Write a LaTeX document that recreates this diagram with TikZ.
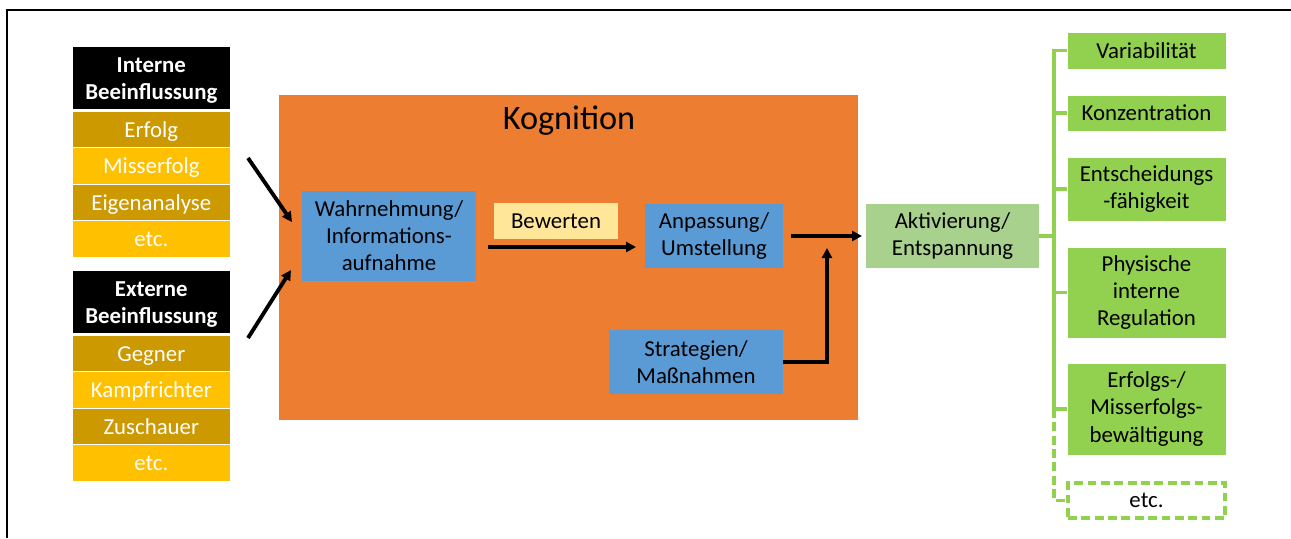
\documentclass[tikz,border=0pt]{standalone}
\usepackage{fontspec}
\setmainfont{Carlito}
\usepackage{tikz}
\usetikzlibrary{shapes, arrows.meta, positioning, calc}

\definecolor{kogorange}{HTML}{ED7D31}
\definecolor{boxblue}{HTML}{5B9BD5}
\definecolor{bewyellow}{HTML}{FFE699}
\definecolor{darkgold}{HTML}{CC9900}
\definecolor{gold}{HTML}{FFC000}
\definecolor{lightgreen}{HTML}{A9D18E}
\definecolor{resgreen}{HTML}{92D050}

\begin{document}
\begin{tikzpicture}[x=0.02cm, y=-0.02cm,
		every node/.style={font=\fontsize{13}{15.4}\selectfont, align=center, inner sep=0pt, outer sep=0pt},
		head/.style={fill=black, text=white, font=\fontsize{13}{15.7}\selectfont\bfseries, text height=27.7pt, text depth=2.7pt, minimum width=3.15cm, minimum height=1.24cm},
		darkrow/.style={fill=darkgold, draw=white, line width=0.4pt, text=white, text height=9pt, text depth=0pt, minimum width=3.15cm, minimum height=0.73cm},
		lightrow/.style={darkrow, fill=gold},
		bluebox/.style={fill=boxblue, minimum width=3.48cm, minimum height=1.28cm},
		greenbox/.style={fill=resgreen, draw=white, line width=0.4pt, minimum width=3.18cm},
		arr/.style={-{Triangle[length=0.2cm, width=0.2cm]}, line width=2.2pt},
		tree/.style={draw=resgreen, line width=2pt},
		greendash/.style={dash pattern=on 5pt off 2.6pt}]
	\useasboundingbox (0,0) rectangle (1291,538);
	% Frame
	\draw[line width=1.5pt] (7,538) -- (7,10) -- (1291,10);

	% Interne Beeinflussung
	\node[head] (inthead) at (151.3,78) {Interne\\Beeinflussung};
	\node[darkrow, below=0.04cm of inthead] (erfolg) {Erfolg};
	\node[lightrow, below=0pt of erfolg] (misserfolg) {Misserfolg};
	\node[darkrow, below=0pt of misserfolg] (eigen) {Eigenanalyse};
	\node[lightrow, below=0pt of eigen] (intetc) {etc.};

	% Externe Beeinflussung
	\node[head] (exthead) at (151.3,302) {Externe\\Beeinflussung};
	\node[darkrow, below=0.04cm of exthead] (gegner) {Gegner};
	\node[lightrow, below=0pt of gegner] (kampf) {Kampfrichter};
	\node[darkrow, below=0pt of kampf] (zusch) {Zuschauer};
	\node[lightrow, below=0pt of zusch] (extetc) {etc.};

	% Kognition
	\node[fill=kogorange, minimum width=11.58cm, minimum height=6.5cm] (kog) at (568.5,257.5) {};
	\node[font=\fontsize{19.5}{23}\selectfont] (kogtitle) at (569,121) {Kognition};
	\node[bluebox, minimum height=1.8cm] (wahr) at (389,236) {Wahrnehmung/\\Informations-\\aufnahme};
	\node[fill=bewyellow, minimum width=2.48cm, minimum height=0.72cm] (bew) at (556,221) {Bewerten};
	\node[bluebox, minimum width=2.76cm] (anp) at (714,236) {Anpassung/\\Umstellung};
	\node[bluebox] (strat) at (696,362) {Strategien/\\Maßnahmen};

	% Aktivierung
	\node[fill=lightgreen, minimum width=3.46cm, minimum height=1.28cm] (akt) at (952.5,236) {Aktivierung/\\Entspannung};

	% Results
	\node[greenbox, minimum height=0.74cm] (var) at (1146.5,50.5) {Variabilität};
	\node[greenbox, minimum height=0.72cm] (konz) at (1146.5,113) {Konzentration};
	\node[greenbox, minimum height=1.28cm] (ents) at (1146.5,189) {Entscheidungs\\-fähigkeit};
	\node[greenbox, minimum height=1.82cm] (phys) at (1146.5,292.5) {Physische\\interne\\Regulation};
	\node[greenbox, minimum height=1.84cm] (erfb) at (1146.5,409) {Erfolgs-/\\Misserfolgs-\\bewältigung};
	\node[draw=resgreen, greendash, line width=2pt, minimum width=3.14cm, minimum height=0.7cm] (resetc) at (1146.5,500.5) {etc.};

	% Connections
	\coordinate (inarr) at (248,158);
	\coordinate (exarr) at (248,338);
	\draw[arr] (inarr) -- ($(wahr.west)+(-10,-14)$);
	\draw[arr] (exarr) -- ($(wahr.west)+(-11,34)$);
	\draw[arr] ($(wahr.east)+(12,11)$) -- ($(anp.west)+(-9,11)$);
	\draw[arr] ([xshift=0.16cm]anp.east) -- ([xshift=-0.08cm]akt.west);
	\draw[arr] (strat.east) -| ($(anp.east)+(44,12)$);

	% Tree
	\draw[tree] (akt.east) -- ++(15,0);
	\draw[tree] (var.west) -- ++(-13,0) |- (erfb.west);
	\draw[tree] (konz.west) -- ++(-13,0);
	\draw[tree] (ents.west) -- ++(-13,0);
	\draw[tree] (phys.west) -- ++(-13,0);
	\draw[tree, greendash] ($(erfb.west)+(-13,0)$) |- (resetc.west);
\end{tikzpicture}
\end{document}
